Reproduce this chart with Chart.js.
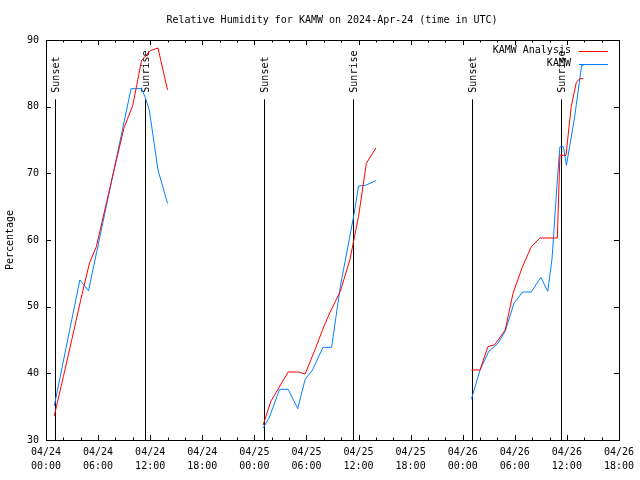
<!DOCTYPE html>
<html>
<head>
<meta charset="utf-8">
<script src="https://cdn.jsdelivr.net/npm/chart.js@4.4.1/dist/chart.umd.min.js"></script>
<style>
  html, body { margin: 0; padding: 0; background: #fff; }
  canvas { display: block; }
</style>
</head>
<body>
<canvas id="rhChart" width="640" height="480"></canvas>
<script>
// hours since 2024-04-24 00:00 UTC, null splits the nights apart
const analysisHours = [0.95, 2, 3, 4, 5, 5.8, 7, 8, 9, 10, 11, 12, 12.9, 14, 19,
  25, 25.9, 27.9, 29.1, 29.85, 31, 32, 32.7, 33.9, 35, 36, 36.9, 38, 43,
  49, 50, 50.9, 51.7, 52.9, 53.8, 54.8, 55.9, 56.9, 58.9, 59.2, 59.9, 60.5, 61.1, 61.5, 61.9];
const analysisRH = [33.6, 39.5, 45.2, 51.0, 56.5, 59.0, 65.8, 71.4, 76.9, 80.2, 86.9, 88.4, 88.8, 82.5, null,
  32.2, 35.8, 40.2, 40.2, 39.9, 43.6, 47.0, 49.1, 52.3, 57.0, 63.5, 71.5, 73.8, null,
  40.5, 40.5, 44.0, 44.3, 46.5, 52.0, 55.7, 59.0, 60.3, 60.3, 72.7, 72.7, 80.0, 83.7, 84.2, 84.2];

const obsHours = [0.95, 3.9, 4.9, 9.8, 11.0, 11.4, 11.9, 12.9, 14, 19,
  25, 25.7, 26.9, 27.9, 29, 29.85, 30.7, 31.9, 32.9, 33.9, 35.5, 36, 36.8, 38, 43,
  49, 50, 51, 52, 52.9, 53.9, 54.9, 55.9, 57, 57.8, 58.3, 58.9, 59.2, 59.6, 59.95, 60.9, 61.7, 61.9];
const obsRH = [35.1, 54.0, 52.4, 82.7, 82.7, 81.5, 79.5, 70.5, 65.5, null,
  31.8, 33.3, 37.6, 37.6, 34.7, 39.1, 40.5, 43.9, 43.9, 53.0, 64.0, 68.1, 68.2, 68.9, null,
  36.1, 40.5, 43.3, 44.4, 46.3, 50.5, 52.2, 52.2, 54.4, 52.3, 57.3, 69.0, 74.0, 74.0, 71.2, 78.5, 86.2, 86.2];

const sunsetHours = [1.07, 25.08, 49.08];
const sunriseHours = [11.4, 35.39, 59.37];

const xTickLabels = [
  ['04/24', '00:00'], ['04/24', '06:00'], ['04/24', '12:00'], ['04/24', '18:00'],
  ['04/25', '00:00'], ['04/25', '06:00'], ['04/25', '12:00'], ['04/25', '18:00'],
  ['04/26', '00:00'], ['04/26', '06:00'], ['04/26', '12:00'], ['04/26', '18:00']
];

const FONT = '"DejaVu Sans Mono", monospace';
const RED = '#ff0000';
const BLUE = '#0080ff';

function toPoints(hours, values) {
  return hours.map((h, i) => ({ x: h, y: values[i] }));
}

// gnuplot-ish extras: frame, inward ticks, sun lines, title, legend
const gnuplotBits = {
  id: 'gnuplotBits',
  beforeDatasetsDraw(chart) {
    const { ctx, chartArea: a, scales: { x, y } } = chart;
    ctx.save();
    ctx.strokeStyle = '#000';
    ctx.fillStyle = '#000';
    ctx.lineWidth = 1;
    ctx.font = '10px ' + FONT;
    const lineTop = y.getPixelForValue(81.1);
    const labelBase = y.getPixelForValue(82.1);
    const drawSun = (h, label) => {
      const px = Math.round(x.getPixelForValue(h)) + 0.5;
      ctx.beginPath();
      ctx.moveTo(px, a.bottom);
      ctx.lineTo(px, lineTop);
      ctx.stroke();
      ctx.save();
      ctx.translate(px + 1, labelBase);
      ctx.rotate(-Math.PI / 2);
      ctx.textAlign = 'left';
      ctx.textBaseline = 'middle';
      ctx.fillText(label, 0, 0);
      ctx.restore();
    };
    sunsetHours.forEach(h => drawSun(h, 'Sunset'));
    sunriseHours.forEach(h => drawSun(h, 'Sunrise'));
    ctx.restore();
  },
  afterDraw(chart) {
    const { ctx, chartArea: a, scales: { x, y } } = chart;
    ctx.save();
    ctx.strokeStyle = '#000';
    ctx.lineWidth = 1;

    // ticks pointing inward, mirrored on all sides
    ctx.beginPath();
    for (let h = 0; h <= 66; h += 2) {
      const px = Math.round(x.getPixelForValue(h)) + 0.5;
      const len = h % 6 === 0 ? 5 : 2.5;
      ctx.moveTo(px, a.bottom);
      ctx.lineTo(px, a.bottom - len);
      ctx.moveTo(px, a.top);
      ctx.lineTo(px, a.top + len);
    }
    for (let v = 30; v <= 90; v += 10) {
      const py = Math.round(y.getPixelForValue(v)) + 0.5;
      ctx.moveTo(a.left, py);
      ctx.lineTo(a.left + 5, py);
      ctx.moveTo(a.right, py);
      ctx.lineTo(a.right - 5, py);
    }
    ctx.stroke();
    ctx.strokeRect(Math.round(a.left) + 0.5, Math.round(a.top) + 0.5,
      Math.round(a.right - a.left), Math.round(a.bottom - a.top));

    ctx.fillStyle = '#000';
    ctx.font = '10px ' + FONT;
    ctx.textAlign = 'center';
    ctx.textBaseline = 'middle';
    ctx.fillText('Relative Humidity for KAMW on 2024-Apr-24 (time in UTC)', 332, 20);

    // legend, top right
    const rows = [['KAMW Analysis', RED], ['KAMW', BLUE]];
    ctx.textAlign = 'right';
    rows.forEach(([label, color], i) => {
      const ly = a.top + 10.5 + i * 13;
      ctx.fillStyle = '#000';
      ctx.fillText(label, a.right - 48, ly);
      ctx.strokeStyle = color;
      ctx.beginPath();
      ctx.moveTo(a.right - 40, Math.round(ly) + 0.5);
      ctx.lineTo(a.right - 11, Math.round(ly) + 0.5);
      ctx.stroke();
    });
    ctx.restore();
  }
};

new Chart(document.getElementById('rhChart'), {
  type: 'line',
  data: {
    datasets: [
      {
        label: 'KAMW Analysis',
        data: toPoints(analysisHours, analysisRH),
        borderColor: RED,
        borderWidth: 1,
        pointRadius: 0,
        tension: 0,
        spanGaps: false
      },
      {
        label: 'KAMW',
        data: toPoints(obsHours, obsRH),
        borderColor: BLUE,
        borderWidth: 1,
        pointRadius: 0,
        tension: 0,
        spanGaps: false
      }
    ]
  },
  options: {
    responsive: false,
    animation: false,
    layout: { padding: { top: 40, right: 19, left: 0, bottom: 0 } },
    plugins: {
      legend: { display: false },
      title: { display: false },
      tooltip: { enabled: false }
    },
    scales: {
      x: {
        type: 'linear',
        min: 0,
        max: 66,
        grid: { display: false, drawTicks: false },
        border: { display: false },
        afterFit: scale => { scale.height = 40; },
        afterBuildTicks: scale => {
          scale.ticks = xTickLabels.map((_, i) => ({ value: i * 6 }));
        },
        ticks: {
          color: '#000',
          padding: 6,
          maxRotation: 0,
          autoSkip: false,
          font: { family: FONT, size: 10, lineHeight: 1.35 },
          callback: (value, index) => xTickLabels[index]
        }
      },
      y: {
        min: 30,
        max: 90,
        grid: { display: false, drawTicks: false },
        border: { display: false },
        afterFit: scale => { scale.width = 46; },
        title: {
          display: true,
          text: 'Percentage',
          color: '#000',
          padding: { top: 4, bottom: 0 },
          font: { family: FONT, size: 10, lineHeight: 1.35 }
        },
        ticks: {
          color: '#000',
          padding: 7,
          stepSize: 10,
          font: { family: FONT, size: 10, lineHeight: 1.35 }
        }
      }
    }
  },
  plugins: [gnuplotBits]
});
</script>
</body>
</html>
